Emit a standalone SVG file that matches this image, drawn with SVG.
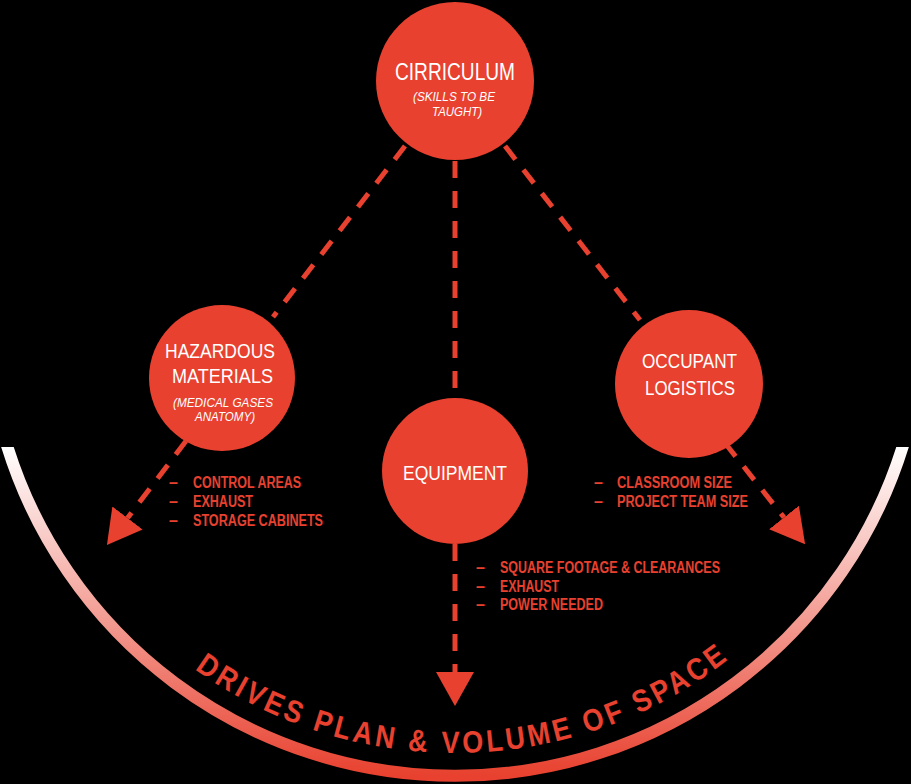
<svg xmlns="http://www.w3.org/2000/svg" width="911" height="784" viewBox="0 0 911 784">
  <defs>
    <style>
      .disc { fill: #e8412f; }
      .lbl { font-family: 'Liberation Sans', Arial, sans-serif; fill: #ffffff; text-anchor: middle; }
      .title { font-size: 21px; }
      .big { font-size: 24px; }
      .sub { font-size: 13px; font-style: italic; }
      .bul { font-family: 'Liberation Sans', Arial, sans-serif; font-weight: bold; font-size: 16px; fill: #e8412f; }
      .conn { fill: none; stroke: #e8412f; stroke-width: 5; stroke-dasharray: 17 13; marker-end: url(#head); }
      .conn.plain { marker-end: none; }
      .arctext { font-family: 'Liberation Sans', Arial, sans-serif; font-size: 31px; font-weight: bold; fill: #e8412f; letter-spacing: 4px; }
    </style>
    <marker id="head" markerUnits="userSpaceOnUse" markerWidth="40" markerHeight="40" viewBox="0 -20 40 40" refX="0" refY="0" orient="auto">
      <path d="M0,-19 L34,0 L0,19 Z" fill="#e8412f"/>
    </marker>
    <linearGradient id="arcGrad" gradientUnits="userSpaceOnUse" x1="0" y1="447" x2="0" y2="776">
      <stop offset="0" stop-color="#ffffff"/>
      <stop offset="1" stop-color="#e8412f"/>
    </linearGradient>
    <clipPath id="arcClip">
      <rect x="0" y="447" width="911" height="337"/>
    </clipPath>
    <path id="textArc" d="M9,307 A446,446 0 0 0 901,307"/>
  </defs>

  <rect x="0" y="0" width="911" height="784" fill="#000000"/>

  <g id="space-arc">
    <path d="M5.3,440 A469,469 0 0 0 904.7,440" fill="none" stroke="url(#arcGrad)" stroke-width="12" clip-path="url(#arcClip)"/>
    <text class="arctext"><textPath href="#textArc" startOffset="710" text-anchor="middle" textLength="575" lengthAdjust="spacingAndGlyphs">DRIVES PLAN &amp; VOLUME OF SPACE</textPath></text>
  </g>

  <g id="connectors">
    <path class="conn plain" d="M405,146 L273,317"/>
    <path class="conn plain" d="M455,161 L455,398"/>
    <path class="conn plain" d="M505,146 L640,320"/>
    <path class="conn" d="M186,441 L127.5,518"/>
    <path class="conn" d="M455,544 L455,672"/>
    <path class="conn" d="M725,443 L784,517.5"/>
  </g>

  <g id="curriculum">
    <circle class="disc" cx="455" cy="81" r="79"/>
    <text class="lbl big" x="455" y="80" textLength="120" lengthAdjust="spacingAndGlyphs">CIRRICULUM</text>
    <text class="lbl sub" x="454" y="101" textLength="82" lengthAdjust="spacingAndGlyphs">(SKILLS TO BE</text>
    <text class="lbl sub" x="457" y="116" textLength="50" lengthAdjust="spacingAndGlyphs">TAUGHT)</text>
  </g>

  <g id="hazardous">
    <circle class="disc" cx="222" cy="378" r="73"/>
    <text class="lbl title" x="220" y="358" textLength="110" lengthAdjust="spacingAndGlyphs">HAZARDOUS</text>
    <text class="lbl title" x="222.5" y="383" textLength="101" lengthAdjust="spacingAndGlyphs">MATERIALS</text>
    <text class="lbl sub" x="223" y="406.5" textLength="100" lengthAdjust="spacingAndGlyphs">(MEDICAL GASES</text>
    <text class="lbl sub" x="225" y="420.5" textLength="60" lengthAdjust="spacingAndGlyphs">ANATOMY)</text>
  </g>

  <g id="occupant">
    <circle class="disc" cx="689" cy="384" r="74"/>
    <text class="lbl title" x="689.5" y="368" textLength="95" lengthAdjust="spacingAndGlyphs">OCCUPANT</text>
    <text class="lbl title" x="690" y="395" textLength="90" lengthAdjust="spacingAndGlyphs">LOGISTICS</text>
  </g>

  <g id="equipment">
    <circle class="disc" cx="455" cy="471" r="73"/>
    <text class="lbl title" x="455" y="480" textLength="104" lengthAdjust="spacingAndGlyphs">EQUIPMENT</text>
  </g>

  <g id="hazardous-list">
    <text class="bul" x="169" y="488">–</text>
    <text class="bul" x="169" y="507">–</text>
    <text class="bul" x="169" y="526">–</text>
    <text class="bul" x="193" y="488" textLength="108" lengthAdjust="spacingAndGlyphs">CONTROL AREAS</text>
    <text class="bul" x="193" y="507" textLength="60" lengthAdjust="spacingAndGlyphs">EXHAUST</text>
    <text class="bul" x="193" y="526" textLength="130" lengthAdjust="spacingAndGlyphs">STORAGE CABINETS</text>
  </g>

  <g id="occupant-list">
    <text class="bul" x="594" y="488">–</text>
    <text class="bul" x="594" y="507">–</text>
    <text class="bul" x="617" y="488" textLength="115" lengthAdjust="spacingAndGlyphs">CLASSROOM SIZE</text>
    <text class="bul" x="617" y="507" textLength="131" lengthAdjust="spacingAndGlyphs">PROJECT TEAM SIZE</text>
  </g>

  <g id="equipment-list">
    <text class="bul" x="476" y="573">–</text>
    <text class="bul" x="476" y="592">–</text>
    <text class="bul" x="476" y="610">–</text>
    <text class="bul" x="500" y="573" textLength="220" lengthAdjust="spacingAndGlyphs">SQUARE FOOTAGE &amp; CLEARANCES</text>
    <text class="bul" x="500" y="592" textLength="59" lengthAdjust="spacingAndGlyphs">EXHAUST</text>
    <text class="bul" x="500" y="610" textLength="103" lengthAdjust="spacingAndGlyphs">POWER NEEDED</text>
  </g>
</svg>
